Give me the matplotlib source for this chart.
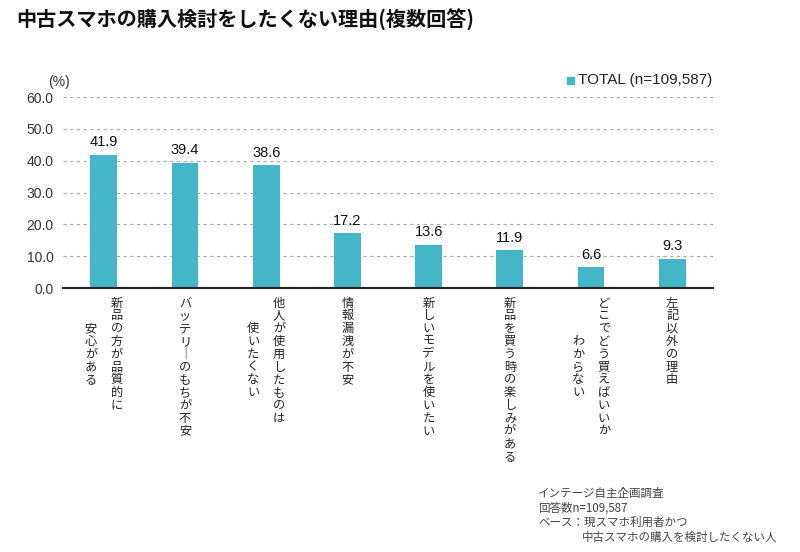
import matplotlib
matplotlib.use("Agg")
import matplotlib.pyplot as plt
from matplotlib.patches import Rectangle

plt.rcParams['font.family'] = ['Liberation Sans', 'Noto Sans CJK JP', 'DejaVu Sans']

title = "中古スマホの購入検討をしたくない理由(複数回答)"
categories = [
    ["新品の方が品質的に", "安心がある"],
    ["バッテリーのもちが不安"],
    ["他人が使用したものは", "使いたくない"],
    ["情報漏洩が不安"],
    ["新しいモデルを使いたい"],
    ["新品を買う時の楽しみがある"],
    ["どこでどう買えばいいか", "わからない"],
    ["左記以外の理由"],
]
values = [41.9, 39.4, 38.6, 17.2, 13.6, 11.9, 6.6, 9.3]
series_name = "TOTAL (n=109,587)"
yticks = [0, 10, 20, 30, 40, 50, 60]
unit_label = "(%)"
notes = ["インテージ自主企画調査", "回答数n=109,587", "ベース：現スマホ利用者かつ", "中古スマホの購入を検討したくない人"]

BAR = "#45B6C8"
JP = ['Noto Sans CJK JP', 'DejaVu Sans']

fig = plt.figure(figsize=(8, 5.52), dpi=100)
ax = fig.add_axes([0.079, 0.478, 0.812, 0.346])

x = list(range(len(values)))
ax.bar(x, values, width=0.33, color=BAR, zorder=3)
ax.set_xlim(-0.5, len(values) - 0.5)
ax.set_ylim(0, 60)
ax.set_yticks(yticks)
ax.set_yticklabels([f"{v:.1f}" for v in yticks], fontsize=10, color="#333333")
ax.tick_params(axis='y', length=0, pad=7)
ax.tick_params(axis='x', length=0, labelbottom=False)
for s in ['top', 'right', 'left']:
    ax.spines[s].set_visible(False)
ax.spines['bottom'].set_color('#222222')
ax.spines['bottom'].set_linewidth(1.5)
ax.spines['bottom'].set_zorder(4)
for v in yticks[1:]:
    ax.axhline(v, color='#aaaaaa', lw=0.8, ls=(0, (3, 3)), zorder=1)

for i, v in enumerate(values):
    ax.annotate(f"{v:.1f}", xy=(i, v), xytext=(0, 4), textcoords='offset points',
                ha='center', va='bottom', fontsize=10.5, color='#111111')

# vertical (tategaki) category labels
pitch = 9.2  # points per character
top = 10.8
col_gap = 18.5
for i, lines in enumerate(categories):
    nmax = max(len(l) for l in lines)
    ncol = len(lines)
    for c, line in enumerate(lines):
        dx = (ncol - 1) / 2 * col_gap - c * col_gap
        start = (nmax - len(line)) / 2
        for k, ch in enumerate(line):
            if ch == 'ー':
                ch = '｜'
            ax.annotate(ch, xy=(i, 0), xycoords=('data', 'axes fraction'),
                        xytext=(dx, -top - (start + k) * pitch), textcoords='offset points',
                        ha='center', va='center', fontsize=8.8, color='#222222', family=JP)

fig.text(0.02, 0.963, title, fontsize=14.5, fontweight='bold', family=JP,
         ha='left', va='center', color='#111111')
fig.text(0.060, 0.852, unit_label, fontsize=10, ha='left', va='center', color='#333333')

# legend
fig.patches.append(Rectangle((567 / 800, 1 - 84 / 552), 7 / 800, 7 / 552,
                             transform=fig.transFigure, color=BAR, figure=fig))
fig.text(578 / 800, 1 - 80 / 552, series_name, fontsize=11, ha='left', va='center', color='#222222')

note_y = [493, 508, 522, 537]
note_x = [538, 538, 538, 582]
for t, yy, xx in zip(notes, note_y, note_x):
    fig.text(xx / 800, 1 - yy / 552, t, fontsize=8.3, family=JP, ha='left', va='center', color='#444444')

fig.savefig("out.png", dpi=100, facecolor='white')
